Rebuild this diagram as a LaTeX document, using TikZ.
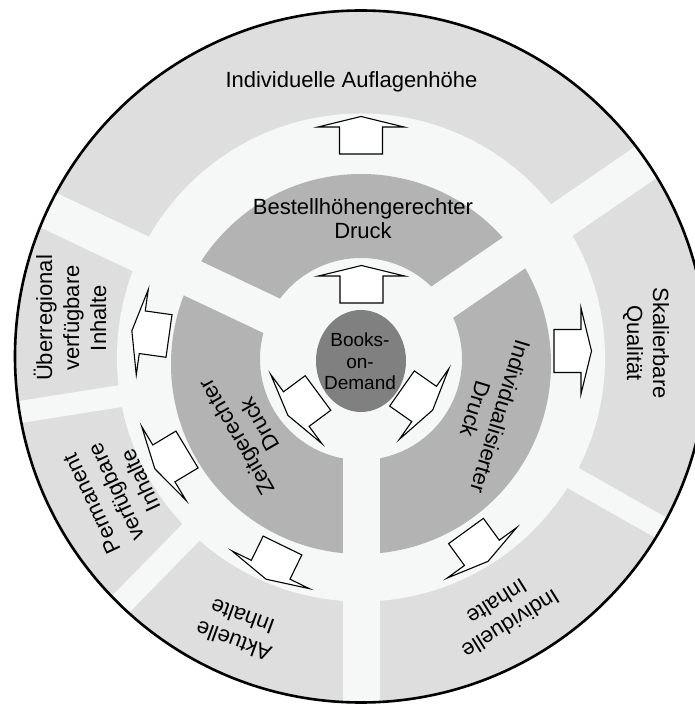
\documentclass[tikz,border=0pt]{standalone}
\usepackage{fontspec}
\setmainfont{Liberation Sans}
\usetikzlibrary{shapes.geometric}
\definecolor{bandgray}{RGB}{222,222,222}
\definecolor{ringwhite}{RGB}{246,247,247}
\definecolor{ringgray}{RGB}{179,179,179}
\definecolor{coregray}{RGB}{128,128,128}
\begin{document}
\begin{tikzpicture}[x=1pt,y=1pt,
  gap/.style={fill=ringwhite},
  lbl/.style={font=\fontsize{22}{26}\selectfont, align=center, inner sep=0pt},
  corelbl/.style={font=\fontsize{19}{21.5}\selectfont, align=center, inner sep=0pt},
  arrowline/.style={draw=black, fill=white, line width=1.1pt, line join=miter},
  blockarrow/.pic={
    \draw[arrowline] (0,-21.5) -- (27,-21.5) -- (27,-43) -- (37.5,0)
      -- (27,43) -- (27,21.5) -- (0,21.5) -- cycle;
  }]
\useasboundingbox (-361,-348) rectangle (334,358);
\clip (-361,-348) rectangle (334,358);
\fill[white] (-361,-348) rectangle (334,358);

% outer band, white ring, middle ring
\fill[bandgray] (0,1.5) circle (346);
\fill[ringwhite] (0,0.5) circle (244);
\fill[ringgray, even odd rule] (0,-6) circle (190) (0,-1) circle (101);

\begin{scope}
  \clip (0,1.5) circle (346);
  % main spokes through both rings
  \fill[gap, rotate=34.5] (0,-19) rectangle (400,19);
  \fill[gap, rotate=154.7] (0,-19) rectangle (400,19);
  \fill[gap] (-18,0) rectangle (19,-400);
  % thinner spokes in the outer band
  \fill[gap, rotate=189] (200,-11) rectangle (400,11);
  \fill[gap, rotate=225.7] (200,-12) rectangle (400,12);
  \fill[gap, rotate=330.5] (200,-11.5) rectangle (400,11.5);
\end{scope}

% core
\node[ellipse, fill=coregray, minimum width=90, minimum height=102, inner sep=0pt]
  (core) at (0,-3) {};
\node[corelbl] (corelabel) at (-1,-3.5) {Books-\\on-\\Demand};

% rim
\draw[line width=2.6pt] (0,1.5) circle (346);

% arrows from the core to the middle ring
\pic[rotate=90] at (0.5,55) {blockarrow};
\pic[rotate=216.5] at (-43,-35) {blockarrow};
\pic[rotate=325] at (41,-30.5) {blockarrow};

% arrows from the middle ring to the outer band
\pic[rotate=90] at (0,204) {blockarrow};
\pic[rotate=0] at (193,7) {blockarrow};
\pic[rotate=172] at (-192,22) {blockarrow};
\pic[rotate=211] at (-174,-91.5) {blockarrow};
\pic[rotate=244] at (-78.5,-187.5) {blockarrow};
\pic[rotate=306] at (105,-173) {blockarrow};

% middle ring labels
\node[lbl, font=\fontsize{22}{24}\selectfont] (bestell) at (2,139) {Bestellhöhengerechter\\Druck};
\node[lbl, rotate=-107] (indiv) at (127,-55) {Individualisierter\\Druck};
\node[lbl, rotate=120] (zeit) at (-113,-73) {Zeitgerechter\\Druck};

% outer band labels
\node[lbl, anchor=base] (aufl) at (-9.5,270) {Individuelle Auflagenhöhe};
\node[lbl, rotate=-90] (skal) at (285,15) {Skalierbare\\Qualität};
\node[lbl, rotate=212] (indinh) at (143,-255) {Individuelle\\Inhalte};
\node[lbl, rotate=160] (akt) at (-123,-271) {Aktuelle\\Inhalte};
\node[lbl, rotate=115, font=\fontsize{22}{27}\selectfont] (perm) at (-245,-134) {Permanent\\verfügbare\\Inhalte};
\node[lbl, rotate=90, font=\fontsize{22}{27}\selectfont] (ueber) at (-291,40) {Überregional\\verfügbare\\Inhalte};
\end{tikzpicture}
\end{document}
